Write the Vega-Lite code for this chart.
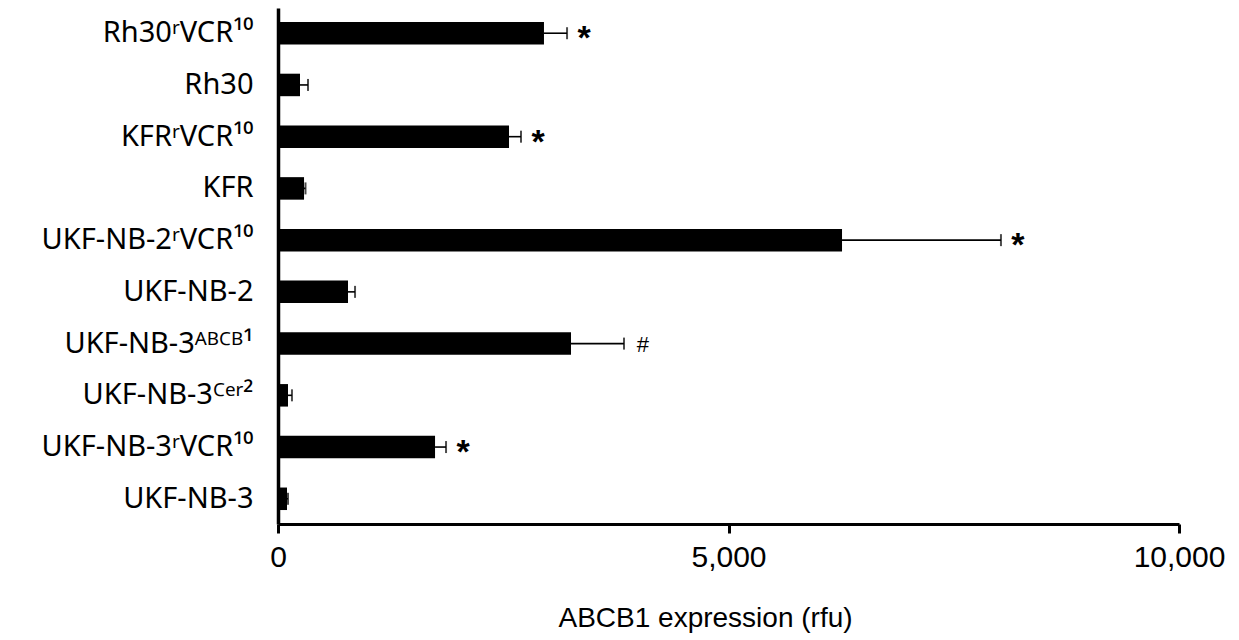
{
  "$schema": "https://vega.github.io/schema/vega-lite/v6.json",
  "width": 901,
  "height": 516,
  "autosize": {"type": "none"},
  "padding": {"left": 278, "top": 8, "right": 60, "bottom": 116},
  "background": "white",
  "config": {
    "view": {"stroke": null},
    "font": "Liberation Sans",
    "axis": {"grid": false, "domainColor": "black", "tickColor": "black", "labelColor": "black", "titleColor": "black"}
  },
  "data": {
    "values": [
      {"label": "Rh30ʳVCR¹⁰", "value": 2952, "err": 3208, "sig": "*"},
      {"label": "Rh30", "value": 244, "err": 333, "sig": ""},
      {"label": "KFRʳVCR¹⁰", "value": 2564, "err": 2697, "sig": "*"},
      {"label": "KFR", "value": 289, "err": 305, "sig": ""},
      {"label": "UKF-NB-2ʳVCR¹⁰", "value": 6260, "err": 8024, "sig": "*"},
      {"label": "UKF-NB-2", "value": 777, "err": 855, "sig": ""},
      {"label": "UKF-NB-3ᴬᴮꟲᴮ¹", "value": 3252, "err": 3840, "sig": "#"},
      {"label": "UKF-NB-3ꟲᵉʳ²", "value": 111, "err": 155, "sig": ""},
      {"label": "UKF-NB-3ʳVCR¹⁰", "value": 1743, "err": 1865, "sig": "*"},
      {"label": "UKF-NB-3", "value": 100, "err": 111, "sig": ""}
    ]
  },
  "encoding": {
    "y": {
      "field": "label", "type": "nominal", "sort": null,
      "scale": {"paddingInner": 0.565, "paddingOuter": 0.27},
      "axis": {"title": null, "ticks": false, "domainWidth": 3.5, "labelFont": "Noto Sans", "labelFontSize": 29, "labelPadding": 25, "labelLimit": 400}
    }
  },
  "layer": [
    {
      "mark": {"type": "rule", "color": "black", "strokeWidth": 1.6},
      "encoding": {
        "x": {
          "field": "value", "type": "quantitative",
          "scale": {"domain": [0, 10000], "nice": false},
          "axis": {
            "title": "ABCB1 expression (rfu)",
            "values": [0, 5000, 10000],
            "labelExpr": "datum.value >= 1000 ? floor(datum.value / 1000) + ',' + substring(toString(1000 + datum.value % 1000), 1) : toString(datum.value)",
            "labelFlush": false,
            "domainWidth": 3,
            "tickWidth": 3,
            "tickSize": 9,
            "labelFontSize": 30,
            "labelPadding": 9,
            "titleFontSize": 28,
            "titleFontWeight": "normal",
            "titlePadding": 32,
            "titleX": 427
          }
        },
        "x2": {"field": "err"}
      }
    },
    {
      "mark": {"type": "tick", "color": "black", "thickness": 2, "size": 12, "orient": "vertical"},
      "encoding": {
        "x": {"field": "err", "type": "quantitative"}
      }
    },
    {
      "mark": {"type": "bar", "color": "black"},
      "encoding": {
        "x": {"field": "value", "type": "quantitative"}
      }
    },
    {
      "transform": [{"filter": "datum.sig === '*'"}],
      "mark": {"type": "text", "fontSize": 34, "fontWeight": "bold", "align": "center", "baseline": "middle", "dx": 17, "dy": 6, "color": "black"},
      "encoding": {
        "x": {"field": "err", "type": "quantitative"},
        "text": {"field": "sig"}
      }
    },
    {
      "transform": [{"filter": "datum.sig === '#'"}],
      "mark": {"type": "text", "fontSize": 22, "align": "center", "baseline": "middle", "dx": 19, "dy": 1, "color": "black"},
      "encoding": {
        "x": {"field": "err", "type": "quantitative"},
        "text": {"field": "sig"}
      }
    }
  ]
}
